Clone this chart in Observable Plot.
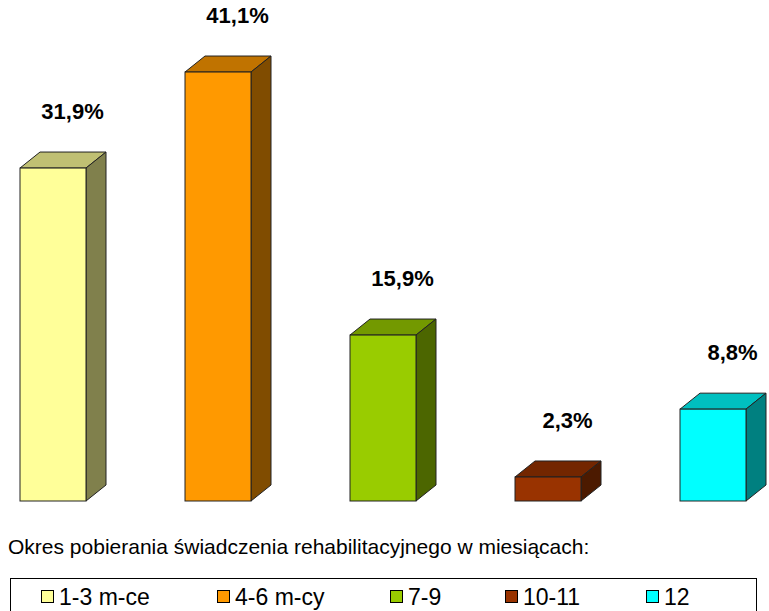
<!DOCTYPE html>
<html>
<head>
<meta charset="utf-8">
<script src="https://cdn.jsdelivr.net/npm/d3@7"></script>
<script src="https://cdn.jsdelivr.net/npm/@observablehq/plot@0.6"></script>
<style>
  html, body { margin: 0; padding: 0; background: #fff; }
  #wrap { position: relative; width: 769px; height: 611px; overflow: hidden; font-family: "Liberation Sans", Arial, sans-serif; }
  #chart { position: absolute; left: 0; top: 0; }
  #caption { position: absolute; left: 8px; top: 536px; font-size: 21px; line-height: 21px; color: #000; white-space: nowrap; }
  #legend { position: absolute; left: 10px; top: 578px; width: 747px; height: 45px; border: 1px solid #000; box-sizing: border-box; }
  .sw { position: absolute; top: 590px; width: 13px; height: 13px; border: 1px solid #000; box-sizing: border-box; }
  .lt { position: absolute; top: 586px; font-size: 23px; line-height: 23px; white-space: nowrap; color: #000; }
</style>
</head>
<body>
<div id="wrap">
  <div id="chart"></div>
  <div id="caption"></div>
  <div id="legend"></div>
</div>
<script>
const categories = ["1-3 m-ce", "4-6 m-cy", "7-9", "10-11", "12"];
const values = [31.9, 41.1, 15.9, 2.3, 8.8];
const labels = ["31,9%", "41,1%", "15,9%", "2,3%", "8,8%"];
const frontColors = ["#FFFF99", "#FF9900", "#99CC00", "#993300", "#00FFFF"];
const topColors = ["#C0C073", "#C07300", "#739900", "#732600", "#00C0C0"];
const sideColors = ["#80804C", "#804C00", "#4C6600", "#4C1A00", "#008080"];
const captionText = "Okres pobierania świadczenia rehabilitacyjnego w miesiącach:";
const legendX = [41, 217, 390, 505, 646];

const data = categories.map((c, i) => ({cat: c, v: values[i], label: labels[i], front: frontColors[i], top: topColors[i], side: sideColors[i]}));

const DX = 20, DY = 16;

function depthFaces(index, scales) {
  const g = d3.create("svg:g");
  const x = scales.x, y = scales.y;
  const bw = x.bandwidth();
  const y0 = y(0);
  for (const d of data) {
    const x0 = x(d.cat), x1 = x0 + bw, yt = y(d.v);
    g.append("path")
      .attr("d", `M${x0},${yt}L${x0 + DX},${yt - DY}L${x1 + DX},${yt - DY}L${x1},${yt}Z`)
      .attr("fill", d.top).attr("stroke", "#222").attr("stroke-width", 1).attr("stroke-linejoin", "round");
    g.append("path")
      .attr("d", `M${x1},${yt}L${x1 + DX},${yt - DY}L${x1 + DX},${y0 - DY}L${x1},${y0}Z`)
      .attr("fill", d.side).attr("stroke", "#222").attr("stroke-width", 1).attr("stroke-linejoin", "round");
  }
  return g.node();
}

const chart = Plot.plot({
  width: 769,
  height: 515,
  marginLeft: 20,
  marginRight: 23,
  marginTop: 0,
  marginBottom: 14,
  x: {type: "band", domain: categories, paddingInner: 0.6, paddingOuter: 0, axis: null},
  y: {domain: [0, 48], axis: null},
  style: {fontFamily: "'Liberation Sans', Arial, sans-serif", background: "white"},
  marks: [
    depthFaces,
    Plot.barY(data, {x: "cat", y: "v", fill: d => d.front, stroke: "#222", strokeWidth: 1}),
    Plot.text(data, {x: "cat", y: "v", text: "label", dx: 19, dy: -57, fontSize: 22, fontWeight: "bold", fill: "#000"})
  ]
});
document.getElementById("chart").appendChild(chart);
document.getElementById("caption").textContent = captionText;

const wrap = document.getElementById("wrap");
categories.forEach((c, i) => {
  const sw = document.createElement("div");
  sw.className = "sw";
  sw.style.left = legendX[i] + "px";
  sw.style.background = frontColors[i];
  wrap.appendChild(sw);
  const t = document.createElement("div");
  t.className = "lt";
  t.style.left = (legendX[i] + 18) + "px";
  t.textContent = c;
  wrap.appendChild(t);
});
</script>
</body>
</html>
